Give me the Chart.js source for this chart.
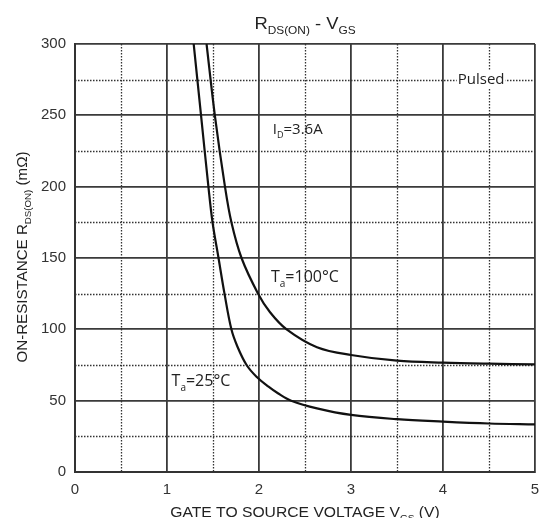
<!DOCTYPE html>
<html>
<head>
<meta charset="utf-8">
<script src="https://cdn.jsdelivr.net/npm/chart.js@4.4.0/dist/chart.umd.min.js"></script>
<style>
    html, body { margin: 0; padding: 0; background: #fff; }
    #wrap { width: 540px; height: 518px; position: relative; }
</style>
</head>
<body>
<div id="wrap"><canvas id="rdsChart" width="540" height="518"></canvas></div>
<script>
// Veriler
const vgs25 = [1.29, 1.37, 1.45, 1.495, 1.56, 1.625, 1.70, 1.765, 1.865, 1.97, 2.1, 2.21, 2.35, 2.63, 3.0, 3.5, 4.0, 4.5, 5.0];
const rds25 = [300, 250, 200, 175, 150, 125, 100, 88, 75, 67, 60, 55, 50, 44.6, 40, 37, 35.3, 34, 33.4];

const vgs100 = [1.43, 1.52, 1.63, 1.70, 1.81, 1.99, 2.12, 2.30, 2.63, 3.0, 3.5, 4.0, 4.5, 5.0];
const rds100 = [300, 250, 200, 175, 150, 125, 112, 100, 87.5, 82, 78, 76.6, 75.9, 75.5];

const xTicks = [0, 1, 2, 3, 4, 5];
const yTicks = [0, 50, 100, 150, 200, 250, 300];
const xMinor = [0.5, 1.5, 2.5, 3.5, 4.5];
const yMinor = [25, 75, 125, 175, 225, 275];

const FONT = '"Liberation Sans", Arial, sans-serif';
const NOTE_FONT = '"Open Sans", "Liberation Sans", sans-serif';

function toPoints(xs, ys) {
    return xs.map((x, i) => ({ x: x, y: ys[i] }));
}

// Alt indisli metin çiz (sx: yatay genişletme)
function drawParts(ctx, parts, x, y, size, font, align, sx) {
    sx = sx || 1;
    const subSize = Math.round(size * 0.62);
    let total = 0;
    parts.forEach(p => {
        ctx.font = (p.sub ? subSize : size) + 'px ' + font;
        total += ctx.measureText(p.t).width;
    });
    ctx.save();
    ctx.translate(x, y);
    ctx.scale(sx, 1);
    let cx = align === 'center' ? -total / 2 : 0;
    ctx.textAlign = 'left';
    ctx.textBaseline = 'alphabetic';
    parts.forEach(p => {
        ctx.font = (p.sub ? subSize : size) + 'px ' + font;
        ctx.fillText(p.t, cx, p.sub ? size * 0.3 : 0);
        cx += ctx.measureText(p.t).width;
    });
    ctx.restore();
    return total * sx;
}

// Küçük noktalı ızgara çizgileri
const minorGrid = {
    id: 'minorGrid',
    beforeDatasetsDraw(chart) {
        const { ctx, chartArea, scales } = chart;
        ctx.save();
        ctx.strokeStyle = '#333';
        ctx.lineWidth = 1.3;
        ctx.setLineDash([1.5, 1.5]);
        xMinor.forEach(v => {
            const px = Math.round(scales.x.getPixelForValue(v)) + 0.5;
            ctx.beginPath();
            ctx.moveTo(px, chartArea.top);
            ctx.lineTo(px, chartArea.bottom);
            ctx.stroke();
        });
        yMinor.forEach(v => {
            const py = Math.round(scales.y.getPixelForValue(v)) + 0.5;
            ctx.beginPath();
            ctx.moveTo(chartArea.left, py);
            ctx.lineTo(chartArea.right, py);
            ctx.stroke();
        });
        ctx.restore();
    }
};

// Başlık, eksen başlıkları ve notlar
const labels = {
    id: 'labels',
    afterDraw(chart) {
        const { ctx, scales } = chart;
        ctx.save();
        ctx.fillStyle = '#222';

        drawParts(ctx, [{ t: 'R' }, { t: 'DS(ON)', sub: true }, { t: ' - V' }, { t: 'GS', sub: true }],
            305, 29, 17, FONT, 'center', 1.08);

        drawParts(ctx, [{ t: 'GATE TO SOURCE VOLTAGE V' }, { t: 'GS', sub: true }, { t: ' (V)' }],
            305, 517, 14, FONT, 'center', 1.12);

        ctx.save();
        ctx.translate(27, 257);
        ctx.rotate(-Math.PI / 2);
        drawParts(ctx, [{ t: 'ON-RESISTANCE R' }, { t: 'DS(ON)', sub: true }, { t: ' (m\u03A9)' }],
            0, 0, 14, FONT, 'center', 1.08);
        ctx.restore();

        // Pulsed etiketi (beyaz zeminli)
        ctx.font = '15px ' + NOTE_FONT;
        const pw = ctx.measureText('Pulsed').width;
        const px = scales.x.getPixelForValue(4.16);
        const py = scales.y.getPixelForValue(275);
        ctx.fillStyle = '#fff';
        ctx.fillRect(px - 1, py - 9, pw + 2, 18);
        ctx.fillStyle = '#222';
        ctx.textBaseline = 'middle';
        ctx.fillText('Pulsed', px, py);

        drawParts(ctx, [{ t: 'I' }, { t: 'D', sub: true }, { t: '=3.6A' }],
            scales.x.getPixelForValue(2.15), scales.y.getPixelForValue(237), 15, NOTE_FONT, 'left');
        drawParts(ctx, [{ t: 'T' }, { t: 'a', sub: true }, { t: '=100\u00B0C' }],
            scales.x.getPixelForValue(2.13), scales.y.getPixelForValue(133), 16, NOTE_FONT, 'left');
        drawParts(ctx, [{ t: 'T' }, { t: 'a', sub: true }, { t: '=25\u00B0C' }],
            scales.x.getPixelForValue(1.05), scales.y.getPixelForValue(60), 16, NOTE_FONT, 'left');

        ctx.restore();
    }
};

const ctx = document.getElementById('rdsChart').getContext('2d');

const rdsChart = new Chart(ctx, {
    type: 'scatter',
    data: {
        datasets: [
            {
                label: 'Ta=25°C',
                data: toPoints(vgs25, rds25),
                showLine: true,
                borderColor: '#111',
                borderWidth: 2.2,
                pointRadius: 0,
                tension: 0.35
            },
            {
                label: 'Ta=100°C',
                data: toPoints(vgs100, rds100),
                showLine: true,
                borderColor: '#111',
                borderWidth: 2.2,
                pointRadius: 0,
                tension: 0.35
            }
        ]
    },
    options: {
        responsive: false,
        animation: false,
        events: [],
        layout: { padding: { top: 44, right: 5, left: 0, bottom: 0 } },
        plugins: {
            legend: { display: false },
            tooltip: { enabled: false }
        },
        scales: {
            x: {
                type: 'linear',
                min: 0,
                max: 5,
                afterBuildTicks: axis => { axis.ticks = xTicks.map(v => ({ value: v })); },
                afterFit: axis => {
                    axis.height = 46;
                    axis.paddingLeft = 0;
                    axis.paddingRight = 0;
                },
                ticks: {
                    color: '#333',
                    font: { family: FONT, size: 15 },
                    padding: 9
                },
                grid: { color: '#3a3a3a', lineWidth: 1.8, drawTicks: false },
                border: { color: '#333', width: 2 }
            },
            y: {
                type: 'linear',
                min: 0,
                max: 300,
                afterBuildTicks: axis => { axis.ticks = yTicks.map(v => ({ value: v })); },
                afterFit: axis => {
                    axis.width = 75;
                    axis.paddingTop = 0;
                    axis.paddingBottom = 0;
                },
                ticks: {
                    color: '#333',
                    font: { family: FONT, size: 15 },
                    padding: 9
                },
                grid: { color: '#3a3a3a', lineWidth: 1.8, drawTicks: false },
                border: { color: '#333', width: 2 }
            }
        }
    },
    plugins: [minorGrid, labels]
});
</script>
</body>
</html>
